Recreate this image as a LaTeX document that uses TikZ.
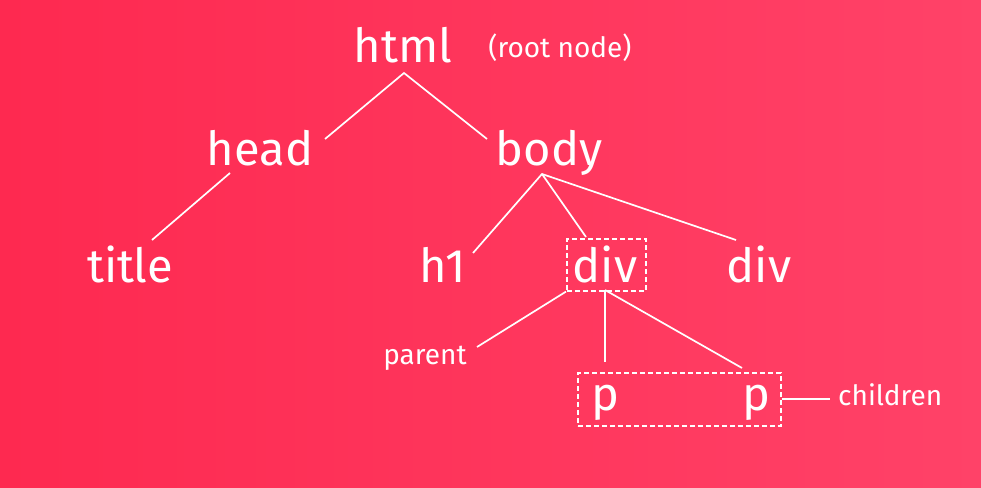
\documentclass[tikz,border=0pt]{standalone}
\usepackage{fontspec}
\setmainfont{Fira Sans}
\definecolor{bgL}{HTML}{FE2950}
\definecolor{bgR}{HTML}{FF4268}
\begin{document}
\begin{tikzpicture}[x=1pt,y=-1pt,
  big/.style={text=white,font=\fontsize{47}{47}\selectfont,anchor=base,inner sep=0pt},
  small/.style={text=white,font=\fontsize{28}{28}\selectfont,anchor=base,inner sep=0pt},
  link/.style={draw=white,line width=1.7pt},
  dbox/.style={draw=white,line width=1.6pt,dash pattern=on 5pt off 3pt,fill=none}]
\shade[left color=bgL,right color=bgR,shading angle=90] (0,0) rectangle (981,487);
\useasboundingbox (0,0) rectangle (981,487);
% text nodes
\node[big] (html) at (403,63) {html};
\node[small] (root) at (560,57) {(root node)};
\node[big] (head) at (260,165) {head};
\node[big] (body) at (549,165) {body};
\node[big] (title) at (130,282) {title};
\node[big] (h1) at (443,282) {h1};
\node[big] (div) at (605,282) {div};
\node[big] (div2) at (759,282) {div};
\node[small] (parent) at (425,364) {parent};
\node[big] (p1) at (605,410) {p};
\node[big] (p2) at (756,410) {p};
\node[small,anchor=base west] (children) at (838,405) {children};
% dashed boxes
\node[dbox,minimum width=79pt,minimum height=52pt,anchor=north west] (divbox) at (566,238) {};
\node[dbox,minimum width=203pt,minimum height=53pt,anchor=north west] (pbox) at (577,372) {};
% connector coordinates
\coordinate (htmlA) at (404,73);
\coordinate (headT) at (325,139);
\coordinate (bodyT) at (487,139);
\coordinate (headB) at (230,173);
\coordinate (titleT) at (152,240);
\coordinate (bodyA) at (542,174);
\coordinate (h1T) at (473,253);
\coordinate (divT) at (586,237);
\coordinate (div2T) at (736,240);
\coordinate (divB) at (605,290);
\coordinate (parentT) at (477,347);
\coordinate (p1T) at (605,362);
\coordinate (p2T) at (742,368);
% connectors
\draw[link] (headT) -- (htmlA) -- (bodyT);
\draw[link] (headB) -- (titleT);
\draw[link] (h1T) -- (bodyA) -- (div2T);
\draw[link] (bodyA) -- (divT);
\draw[link] (divbox.south west) -- (parentT);
\draw[link] (divB) -- (p1T);
\draw[link] (divB) -- (p2T);
\draw[link] (pbox.east) -- ([xshift=-8pt]children.west |- pbox.east);
\end{tikzpicture}
\end{document}
